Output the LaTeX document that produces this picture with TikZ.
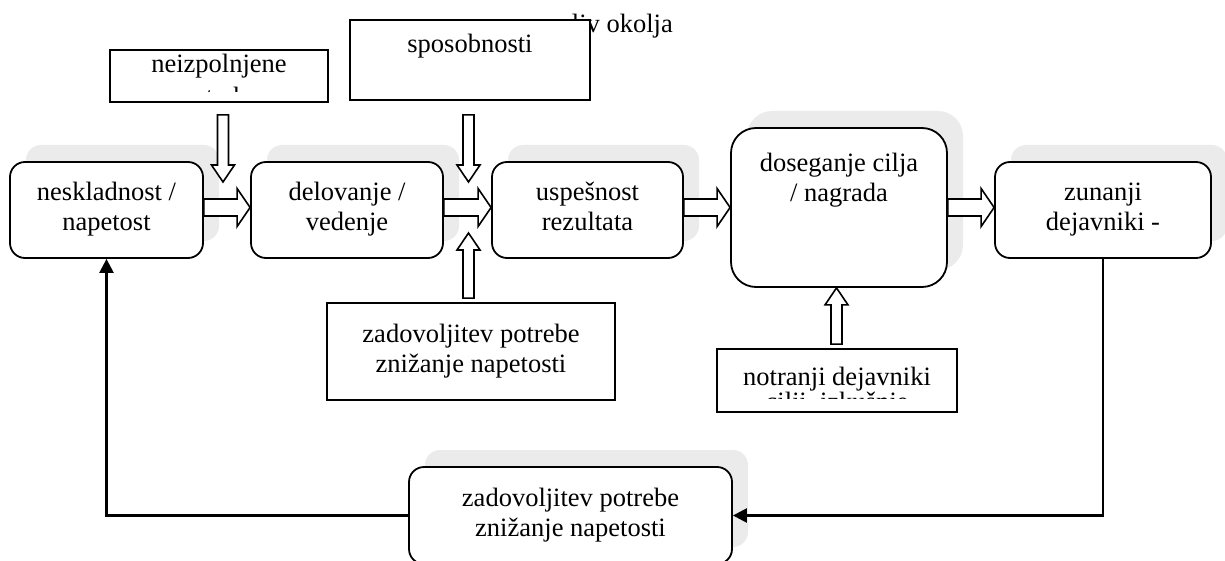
\documentclass[tikz,border=0pt]{standalone}
\usepackage{fontspec}
\setmainfont{Liberation Serif}
\usetikzlibrary{calc,arrows.meta,shadows}
\definecolor{shade}{HTML}{EBEBEB}

% hollow block arrows: #1 = start point, #2 = tip
\newcommand{\hollowright}[2]{%
  \draw[hollow] let \p1=(#1), \p2=(#2) in
    (\x1,\y1+8.5pt) -- (\x2-13pt,\y1+8.5pt) -- (\x2-13pt,\y1+19pt) -- (\x2,\y1)
    -- (\x2-13pt,\y1-19pt) -- (\x2-13pt,\y1-8.5pt) -- (\x1,\y1-8.5pt) -- cycle;}
\newcommand{\hollowdown}[2]{%
  \draw[hollow] let \p1=(#1), \p2=(#2) in
    (\x1-5.5pt,\y1) -- (\x1-5.5pt,\y2+17pt) -- (\x1-11.5pt,\y2+17pt) -- (\x1,\y2)
    -- (\x1+11.5pt,\y2+17pt) -- (\x1+5.5pt,\y2+17pt) -- (\x1+5.5pt,\y1) -- cycle;}
\newcommand{\hollowup}[2]{%
  \draw[hollow] let \p1=(#1), \p2=(#2) in
    (\x1-5.5pt,\y1) -- (\x1-5.5pt,\y2-17pt) -- (\x1-11.5pt,\y2-17pt) -- (\x1,\y2)
    -- (\x1+11.5pt,\y2-17pt) -- (\x1+5.5pt,\y2-17pt) -- (\x1+5.5pt,\y1) -- cycle;}

\tikzset{
  every node/.style={font=\fontsize{26.5}{30}\selectfont},
  stage/.style={draw, line width=1.8pt, fill=white, rounded corners=15pt,
    align=center, inner sep=0pt},
  shadowed/.style={drop shadow={shadow xshift=16pt, shadow yshift=17pt,
    fill=shade, opacity=1}},
  plainbox/.style={draw, line width=1.8pt, fill=white, align=center, inner sep=0pt},
  txt/.style={inner sep=0pt, align=center},
  hollow/.style={draw, line width=1.6pt, fill=white, line join=miter},
  feedback/.style={line width=2.4pt, -{Triangle[length=14pt,width=14pt]}}
}

\begin{document}
\begin{tikzpicture}[x=1pt,y=-1pt]
\useasboundingbox (0,0) rectangle (1225,561);

% text running out of the upper box
\node[txt, anchor=base east] (vpliv) at (673,33) {vpliv okolja};

% upper input boxes
\node[plainbox, minimum width=240pt, minimum height=80pt] (sposob) at (470,60) {};
\node[txt, anchor=base] (sposobtxt) at (470,53) {sposobnosti};

\node[plainbox, minimum width=218pt, minimum height=52pt] (neiz) at (219,76) {};
\begin{scope}
  \clip (110,50) rectangle (328,91.5);
  \node[txt] (neiztxt) at (219,83.5) {neizpolnjene\strut\\[3pt]potrebe\strut};
\end{scope}

% main row
\node[stage, shadowed, minimum width=193pt, minimum height=96pt] (box1) at (106.5,210)
  {neskladnost /\strut\\napetost\strut};
\node[stage, shadowed, minimum width=192pt, minimum height=96pt] (box2) at (347,210)
  {delovanje /\strut\\vedenje\strut};
\node[stage, shadowed, minimum width=191pt, minimum height=96pt] (box3) at (587.5,210)
  {uspešnost\strut\\rezultata\strut};
\node[stage, shadowed, rounded corners=25pt, minimum width=216pt, minimum height=159pt]
  (box4) at (839,207.5) {};
\node[txt] (box4txt) at (839,181) {doseganje cilja\strut\\/ nagrada\strut};
\node[stage, shadowed, minimum width=216pt, minimum height=96pt] (box5) at (1103,210)
  {zunanji\strut\\dejavniki -\strut};

% lower input boxes
\node[plainbox, minimum width=288pt, minimum height=97pt] (zad) at (471,351.5)
  {zadovoljitev potrebe\strut\\znižanje napetosti\strut};

\node[plainbox, minimum width=240pt, minimum height=63pt] (notr) at (837,380.5) {};
\begin{scope}
  \clip (717,349) rectangle (957,398);
  \node[txt] (notrtxt) at (837,391.5) {notranji dejavniki\strut\\[-5pt]cilji, izkušnje\strut};
\end{scope}

% feedback box
\node[stage, shadowed, minimum width=323pt, minimum height=97pt] (bot) at (570.5,515.5)
  {zadovoljitev potrebe\strut\\znižanje napetosti\strut};

% hollow arrows along the main row
\coordinate (hy) at (0,207.5);
\hollowright{box1.east |- hy}{box2.west |- hy}
\hollowright{box2.east |- hy}{box3.west |- hy}
\hollowright{box3.east |- hy}{box4.west |- hy}
\hollowright{box4.east |- hy}{box5.west |- hy}

% hollow arrows from the input boxes
\coordinate (d1s) at ($(neiz.south)+(4,12)$);
\coordinate (d1t) at (223,182);
\hollowdown{d1s}{d1t}
\coordinate (d2s) at ($(sposob.south)+(-1.5,14)$);
\coordinate (d2t) at (468.5,182);
\hollowdown{d2s}{d2t}
\coordinate (u1s) at ($(zad.north)+(-2.5,-4)$);
\coordinate (u1t) at (468.5,233);
\hollowup{u1s}{u1t}
\coordinate (u2s) at ($(notr.north)+(-0.5,-4)$);
\hollowup{u2s}{u2s |- box4.south}

% feedback loop
\draw[feedback] (box5.south) |- (bot.east);
\draw[feedback] (bot.west) -| (box1.south);
\end{tikzpicture}
\end{document}
